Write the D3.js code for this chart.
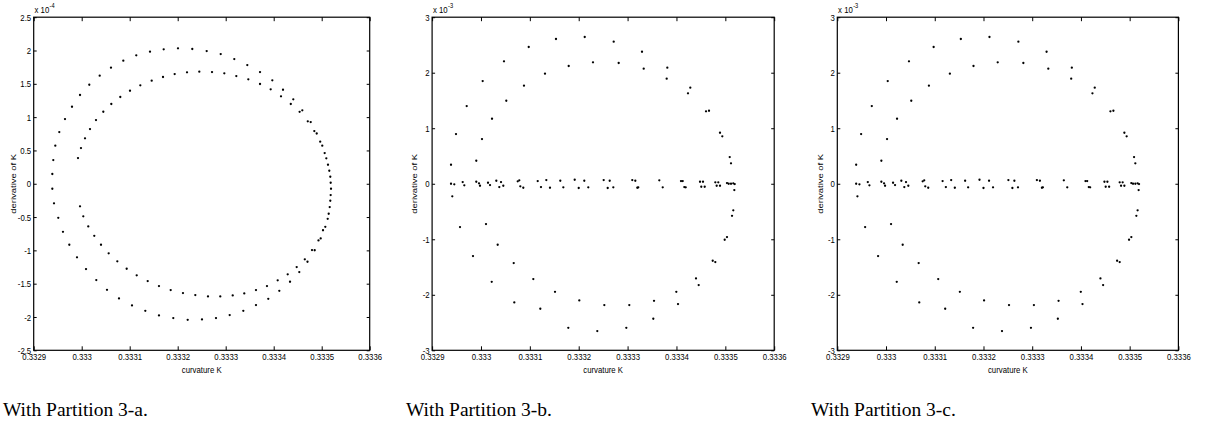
<!DOCTYPE html>
<html>
<head>
<meta charset="utf-8">
<script src="https://cdn.jsdelivr.net/npm/d3@7"></script>
<style>
  html, body { margin: 0; padding: 0; background: #fff; }
  svg { display: block; }
</style>
</head>
<body>
<svg id="fig" width="1210" height="431"></svg>
<script>
// ---- curvature K axis (shared by all three panels) ----
const kTicks = [0.3329, 0.3330, 0.3331, 0.3332, 0.3333, 0.3334, 0.3335, 0.3336];
const kTickLabels = ["0.3329", "0.333", "0.3331", "0.3332", "0.3333", "0.3334", "0.3335", "0.3336"];

// ---- derivative axis ticks (values in units of the axis multiplier) ----
const dkTicksA = [-2.5, -2, -1.5, -1, -0.5, 0, 0.5, 1, 1.5, 2, 2.5];
const dkTickLabelsA = ["-2.5", "-2", "-1.5", "-1", "-0.5", "0", "0.5", "1", "1.5", "2", "2.5"];
const dkTicksB = [-3, -2, -1, 0, 1, 2, 3];
const dkTickLabelsB = ["-3", "-2", "-1", "0", "1", "2", "3"];

// ---- Partition 3-a : [K, dK/dt x 1e4] ----
const outerRingA = [
  [0.3329388,-0.075],[0.3329388,0.146],[0.3329408,0.356],[0.3329450,0.571],[0.3329533,0.776],
  [0.3329652,0.971],[0.3329798,1.156],[0.3329965,1.332],[0.3330158,1.486],[0.3330375,1.622],
  [0.3330610,1.742],[0.3330867,1.847],[0.3331137,1.928],[0.3331423,1.982],[0.3331708,2.018],
  [0.3332006,2.033],[0.3332304,2.023],[0.3332604,1.992],[0.3332896,1.947],[0.3333179,1.872],
  [0.3333450,1.782],[0.3333715,1.677],[0.3333971,1.553],[0.3334194,1.411],[0.3334408,1.267],
  [0.3334596,1.102],[0.3334771,0.926],[0.3334896,0.754],[0.3335012,0.571],[0.3335096,0.381],
  [0.3335158,0.195],[0.3335187,0.015],[0.3335187,-0.170],[0.3335167,-0.350],[0.3335125,-0.526],
  [0.3335075,-0.646],[0.3334979,-0.820],[0.3334854,-0.998],[0.3334704,-1.171],[0.3334533,-1.326],
  [0.3334340,-1.471],[0.3334117,-1.607],[0.3333887,-1.727],[0.3333631,-1.821],[0.3333367,-1.907],
  [0.3333083,-1.971],[0.3332798,-2.017],[0.3332506,-2.036],[0.3332208,-2.042],[0.3331908,-2.017],
  [0.3331610,-1.976],[0.3331325,-1.907],[0.3331048,-1.826],[0.3330777,-1.721],[0.3330527,-1.592],
  [0.3330304,-1.446],[0.3330090,-1.281],[0.3329902,-1.105],[0.3329742,-0.916],[0.3329610,-0.721],
  [0.3329512,-0.511],[0.3329423,-0.294]
];
const innerRingA = [
  [0.3329923,0.386],[0.3329985,0.536],[0.3330069,0.682],[0.3330173,0.821],[0.3330298,0.956],
  [0.3330450,1.081],[0.3330617,1.197],[0.3330804,1.302],[0.3331006,1.396],[0.3331221,1.477],
  [0.3331458,1.547],[0.3331694,1.602],[0.3331937,1.647],[0.3332194,1.673],[0.3332450,1.682],
  [0.3332715,1.677],[0.3332971,1.658],[0.3333221,1.617],[0.3333471,1.568],[0.3333715,1.497],
  [0.3333937,1.417],[0.3334152,1.312],[0.3334356,1.197],[0.3334540,1.080],[0.3334710,0.937],
  [0.3334846,0.791],[0.3334969,0.632],[0.3335062,0.461],[0.3335131,0.285],[0.3335179,0.105],
  [0.3335194,-0.075],[0.3335179,-0.255],[0.3335146,-0.450],[0.3335027,-0.698],[0.3334933,-0.850],
  [0.3334798,-0.995],[0.3334648,-1.134],[0.3334479,-1.251],[0.3334292,-1.360],[0.3334083,-1.450],
  [0.3333860,-1.536],[0.3333631,-1.596],[0.3333387,-1.646],[0.3333146,-1.676],[0.3332887,-1.691],
  [0.3332631,-1.691],[0.3332367,-1.671],[0.3332110,-1.641],[0.3331854,-1.596],[0.3331610,-1.536],
  [0.3331375,-1.461],[0.3331146,-1.375],[0.3330937,-1.276],[0.3330742,-1.165],[0.3330562,-1.045],
  [0.3330402,-0.916],[0.3330262,-0.781],[0.3330137,-0.640],[0.3330033,-0.489],[0.3329965,-0.339]
];

// ---- Partitions 3-b / 3-c : [K, dK/dt x 1e3] ----
const ringB = [
  [0.3329387,0.342],[0.3329413,-0.227],[0.3329489,0.895],[0.3329708,1.400],[0.3329904,0.414],
  [0.3330035,1.850],[0.3330021,0.805],[0.3330226,1.171],[0.3330471,2.205],[0.3330518,1.495],
  [0.3330880,1.766],[0.3330977,2.463],[0.3331310,1.982],[0.3331535,2.607],[0.3331795,2.121],
  [0.3332123,2.643],[0.3332292,2.187],[0.3332716,2.559],[0.3332818,2.175],[0.3333295,2.378],
  [0.3333330,2.072],[0.3333800,1.892],[0.3333813,2.090],[0.3334236,1.629],[0.3334283,1.730],
  [0.3334605,1.305],[0.3334666,1.315],[0.3334891,0.919],[0.3334938,0.854],[0.3335090,0.481],
  [0.3335116,0.368],[0.3335184,-0.114],
  [0.3329571,-0.780],[0.3329837,-1.303],[0.3330103,-0.726],[0.3330220,-1.766],[0.3330342,-1.099],
  [0.3330670,-1.429],[0.3330682,-2.137],[0.3331071,-1.717],[0.3331214,-2.252],[0.3331515,-1.946],
  [0.3331787,-2.595],[0.3332012,-2.101],[0.3332380,-2.654],[0.3332524,-2.186],[0.3332974,-2.595],
  [0.3333035,-2.186],[0.3333526,-2.432],[0.3333541,-2.108],[0.3333997,-1.946],[0.3334032,-2.168],
  [0.3334400,-1.705],[0.3334455,-1.825],[0.3334742,-1.387],[0.3334795,-1.411],[0.3334987,-1.009],
  [0.3335034,-0.960],[0.3335137,-0.577],[0.3335163,-0.479]
];
const zeroBandB = [
  [0.3329387,0],[0.3329454,-0.011],[0.3329626,0.031],[0.3329659,-0.029],[0.3329904,0.036],
  [0.3329960,0.007],[0.3329980,-0.036],[0.3330144,0.018],[0.3330185,-0.023],[0.3330314,0.054],
  [0.3330375,-0.059],[0.3330410,0.031],[0.3330457,-0.036],[0.3330752,0.043],[0.3330784,0.061],
  [0.3330805,-0.047],[0.3330866,-0.072],[0.3331161,0.049],[0.3331228,-0.059],[0.3331337,0.067],
  [0.3331412,-0.072],[0.3331623,0.054],[0.3331685,-0.065],[0.3331918,0.072],[0.3332000,-0.077],
  [0.3332114,0.054],[0.3332196,-0.065],[0.3332511,0.067],[0.3332593,-0.077],[0.3332634,0.054],
  [0.3332708,-0.065],[0.3333096,0.067],[0.3333158,0.054],[0.3333199,-0.072],[0.3333219,-0.065],
  [0.3333649,0.061],[0.3333719,-0.065],[0.3334093,0.049],[0.3334128,0.049],[0.3334161,-0.059],
  [0.3334189,-0.065],[0.3334482,0.036],[0.3334543,0.036],[0.3334508,-0.054],[0.3334578,-0.054],
  [0.3334795,0.025],[0.3334856,0.025],[0.3334823,-0.036],[0.3334891,-0.036],[0.3335034,0.013],
  [0.3335069,0],[0.3335116,0],[0.3335163,0.007],[0.3335192,-0.005]
];

const captions = ["With Partition 3-a.", "With Partition 3-b.", "With Partition 3-c."];

// ---- layout ----
const TOP = 17.2, BOTTOM = 350.3;
const SANS = "'Liberation Sans', Arial, Helvetica, sans-serif";
const SERIF = "'Liberation Serif', 'Times New Roman', serif";
const FS = 9.4;        // tick / label font size
const SQUEEZE = 0.83;  // narrow Helvetica look

const panels = [
  { left: 33.7,  right: 369.7,  points: [outerRingA, innerRingA], dom: [-2.5, 2.5],
    ticks: dkTicksA, tickLabels: dkTickLabelsA, exp: "-4", ylabX: 15.5,  capX: 3 },
  { left: 432.1, right: 774.2,  points: [ringB, zeroBandB], dom: [-3, 3],
    ticks: dkTicksB, tickLabels: dkTickLabelsB, exp: "-3", ylabX: 416.5, capX: 406 },
  { left: 837.3, right: 1178.4, points: [ringB, zeroBandB], dom: [-3, 3],
    ticks: dkTicksB, tickLabels: dkTickLabelsB, exp: "-3", ylabX: 823,   capX: 811 }
];

const svg = d3.select("#fig");

// Narrow a text horizontally; returns the resulting advance width.
function squeeze(sel, f) {
  let last = 0;
  sel.each(function () {
    const w = this.getComputedTextLength();
    last = w * f;
    this.setAttribute("textLength", last.toFixed(2));
    this.setAttribute("lengthAdjust", "spacingAndGlyphs");
  });
  return last;
}

panels.forEach((p, i) => {
  const x = d3.scaleLinear().domain([0.3329, 0.3336]).range([p.left, p.right]);
  const y = d3.scaleLinear().domain(p.dom).range([BOTTOM, TOP]);
  const g = svg.append("g");

  const styleAxis = sel => {
    sel.select(".domain").remove();
    sel.selectAll("line").attr("stroke", "#000").attr("stroke-width", 1);
    sel.attr("font-family", SANS).attr("font-size", FS);
    sel.selectAll("text").attr("fill", "#000");
  };

  // bottom + top K axes (inward ticks)
  g.append("g").attr("transform", `translate(0,${BOTTOM})`)
    .call(d3.axisBottom(x).tickValues(kTicks).tickFormat((d, j) => kTickLabels[j])
      .tickSizeInner(-4).tickSizeOuter(0).tickPadding(3.5))
    .call(styleAxis)
    .call(s => squeeze(s.selectAll("text"), SQUEEZE));
  g.append("g").attr("transform", `translate(0,${TOP})`)
    .call(d3.axisTop(x).tickValues(kTicks).tickFormat("").tickSizeInner(-4).tickSizeOuter(0))
    .call(styleAxis);

  // left + right derivative axes
  g.append("g").attr("transform", `translate(${p.left},0)`)
    .call(d3.axisLeft(y).tickValues(p.ticks).tickFormat((d, j) => p.tickLabels[j])
      .tickSizeInner(-3).tickSizeOuter(0).tickPadding(2.5))
    .call(styleAxis)
    .call(s => squeeze(s.selectAll("text"), SQUEEZE));
  g.append("g").attr("transform", `translate(${p.right},0)`)
    .call(d3.axisRight(y).tickValues(p.ticks).tickFormat("").tickSizeInner(-3).tickSizeOuter(0))
    .call(styleAxis);

  // axes box
  g.append("rect")
    .attr("x", p.left).attr("y", TOP)
    .attr("width", p.right - p.left).attr("height", BOTTOM - TOP)
    .attr("fill", "none").attr("stroke", "#000").attr("stroke-width", 1.2);

  // scatter points
  p.points.forEach(set => {
    g.append("g").selectAll("circle").data(set).join("circle")
      .attr("cx", d => x(d[0])).attr("cy", d => y(d[1]))
      .attr("r", 1.15).attr("fill", "#000");
  });

  // axis multiplier "x 10^n"
  const m = g.append("text")
    .attr("x", p.left + 0.8).attr("y", TOP - 4.3)
    .attr("font-family", SANS).attr("font-size", FS).text("x 10");
  const mw = squeeze(m, SQUEEZE);
  const e = g.append("text")
    .attr("x", p.left + 0.8 + mw + 0.4).attr("y", TOP - 9.6)
    .attr("font-family", SANS).attr("font-size", 6.8).text(p.exp);
  squeeze(e, SQUEEZE);

  // axis titles
  const xt = g.append("text")
    .attr("x", (p.left + p.right) / 2).attr("y", 373)
    .attr("text-anchor", "middle")
    .attr("font-family", SANS).attr("font-size", FS).text("curvature K");
  squeeze(xt, SQUEEZE);
  const yt = g.append("text")
    .attr("transform", `translate(${p.ylabX},${(TOP + BOTTOM) / 2}) rotate(-90)`)
    .attr("text-anchor", "middle")
    .attr("font-family", SANS).attr("font-size", 8).text("derivative of K");
  squeeze(yt, 1.18);

  // caption
  svg.append("text")
    .attr("x", p.capX).attr("y", 416)
    .attr("font-family", SERIF).attr("font-size", 19.5)
    .text(captions[i]);
});
</script>
</body>
</html>
